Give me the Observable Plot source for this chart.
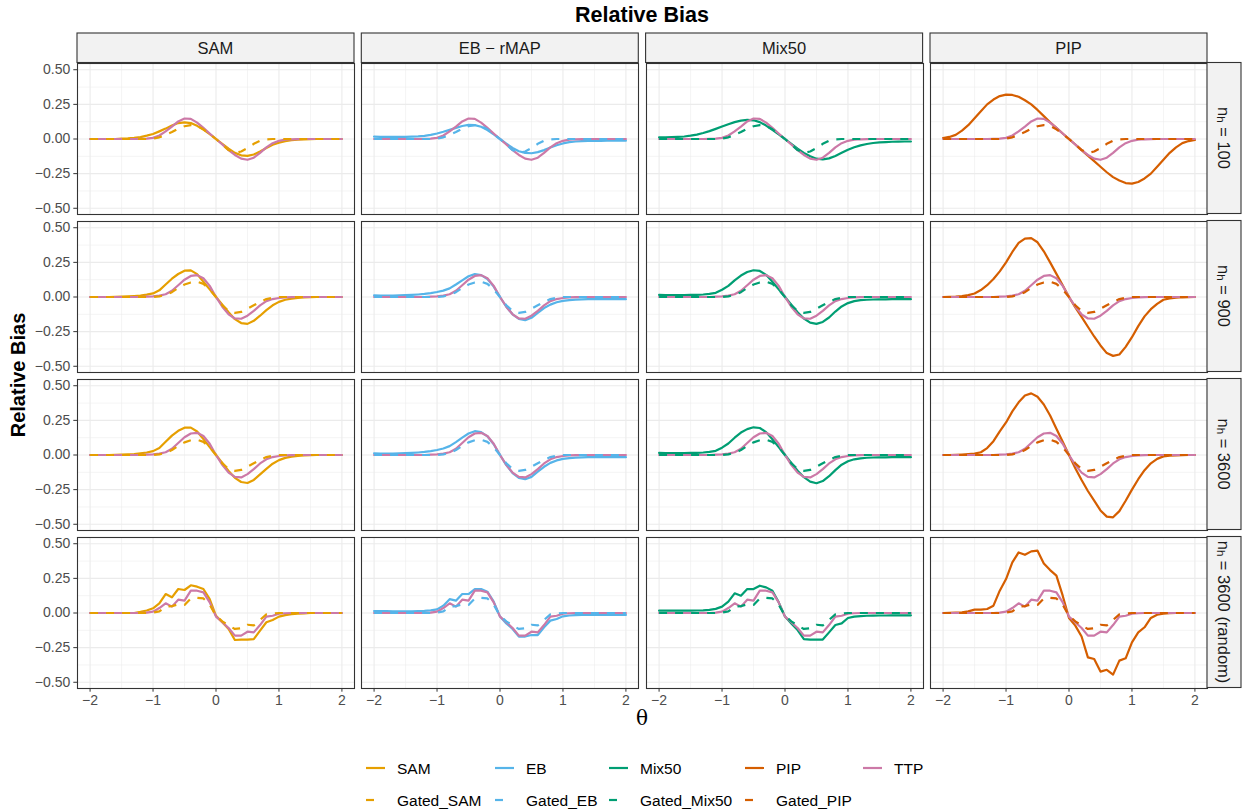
<!DOCTYPE html>
<html><head><meta charset="utf-8">
<script src="https://cdn.jsdelivr.net/npm/d3@7"></script>
<script src="https://cdn.jsdelivr.net/npm/@observablehq/plot@0.6"></script>
<style>
body{margin:0;background:#fff;font-family:"Liberation Sans",Arial,sans-serif;}
#root{position:relative;width:1250px;height:812px;overflow:hidden;background:#fff;}
.pn{position:absolute;}
.pn svg{overflow:visible;}
#overlay{position:absolute;left:0;top:0;pointer-events:none;}
</style></head><body><div id="root"></div>
<script>
// ---------------- data ----------------
const theta = [-2.0,-1.9,-1.8,-1.7,-1.6,-1.5,-1.4,-1.3,-1.2,-1.1,-1.0,-0.9,-0.8,-0.7,-0.6,-0.5,-0.4,-0.3,-0.2,-0.1,0.0,0.1,0.2,0.3,0.4,0.5,0.6,0.7,0.8,0.9,1.0,1.1,1.2,1.3,1.4,1.5,1.6,1.7,1.8,1.9,2.0];
const columns = ["SAM", "EB \u2212 rMAP", "Mix50", "PIP"];
const rowSizes = ["100", "900", "3600", "3600 (random)"];
const methodNames = ["SAM", "EB", "Mix50", "PIP"];
const gatedNames = ["Gated_SAM", "Gated_EB", "Gated_Mix50", "Gated_PIP"];
const legendRow1 = ["SAM", "EB", "Mix50", "PIP", "TTP"];
const legendRow2 = ["Gated_SAM", "Gated_EB", "Gated_Mix50", "Gated_PIP"];
const colors = {SAM: "#E69F00", EB: "#56B4E9", Mix50: "#009E73", PIP: "#D55E00", TTP: "#CC79A7"};
const xMajor = [-2, -1, 0, 1, 2];
const xMinor = [-1.5, -0.5, 0.5, 1.5];
const yMajor = [-0.5, -0.25, 0, 0.25, 0.5];
const yMinor = [-0.375, -0.125, 0.125, 0.375];

// n_h = 100
const sam100 = [0,0,0,0,0,0.002,0.004,0.008,0.014,0.024,0.036,0.055,0.075,0.098,0.115,0.12,0.115,0.095,0.068,0.035,0,-0.035,-0.07,-0.1,-0.118,-0.122,-0.112,-0.09,-0.065,-0.042,-0.026,-0.015,-0.008,-0.004,-0.002,-0.001,0,0,0,0,0];
const eb100 = [0.017,0.016,0.015,0.015,0.015,0.016,0.017,0.019,0.023,0.03,0.04,0.052,0.066,0.08,0.094,0.102,0.1,0.088,0.065,0.033,0,-0.033,-0.065,-0.088,-0.1,-0.103,-0.095,-0.08,-0.062,-0.045,-0.032,-0.023,-0.018,-0.015,-0.014,-0.013,-0.013,-0.012,-0.012,-0.012,-0.012];
const mix100 = [0.012,0.012,0.013,0.015,0.018,0.024,0.032,0.043,0.057,0.073,0.09,0.107,0.122,0.133,0.138,0.135,0.122,0.097,0.066,0.033,0,-0.035,-0.07,-0.1,-0.125,-0.142,-0.147,-0.14,-0.122,-0.1,-0.078,-0.06,-0.046,-0.036,-0.029,-0.025,-0.022,-0.02,-0.019,-0.018,-0.018];
const pip100 = [0.007,0.015,0.03,0.06,0.1,0.15,0.2,0.25,0.285,0.31,0.32,0.318,0.305,0.28,0.25,0.21,0.165,0.12,0.08,0.04,0,-0.04,-0.08,-0.12,-0.16,-0.2,-0.24,-0.275,-0.3,-0.318,-0.322,-0.31,-0.285,-0.25,-0.2,-0.15,-0.1,-0.06,-0.03,-0.015,-0.006];
const ttp100 = [0,0,0,0,0,0,0,0,0.001,0.003,0.008,0.025,0.055,0.09,0.127,0.148,0.145,0.118,0.08,0.04,0,-0.04,-0.08,-0.115,-0.142,-0.15,-0.135,-0.1,-0.06,-0.03,-0.013,-0.005,-0.002,-0.001,0,0,0,0,0,0,0];
const gated100 = [0,0,0,0,0,0,0,0,0,0,0.003,0.012,0.03,0.05,0.075,0.092,0.1,0.095,0.07,0.035,0,-0.04,-0.08,-0.1,-0.09,-0.065,-0.035,-0.012,-0.003,0,0,0,0,0,0,0,0,0,0,0,0];

// n_h = 900
const sam900 = [0,0,0,0,0.001,0.002,0.004,0.007,0.011,0.017,0.026,0.048,0.09,0.132,0.166,0.19,0.192,0.165,0.11,0.055,0,-0.055,-0.11,-0.16,-0.188,-0.194,-0.172,-0.135,-0.095,-0.06,-0.035,-0.02,-0.012,-0.006,-0.003,-0.001,0,0,0,0,0];
const eb900 = [0.012,0.011,0.011,0.011,0.012,0.013,0.015,0.018,0.022,0.028,0.036,0.046,0.062,0.09,0.12,0.15,0.165,0.158,0.13,0.075,0,-0.07,-0.125,-0.158,-0.167,-0.15,-0.115,-0.08,-0.055,-0.038,-0.028,-0.022,-0.019,-0.017,-0.016,-0.016,-0.016,-0.016,-0.016,-0.016,-0.016];
const mix900 = [0.015,0.014,0.014,0.014,0.014,0.015,0.016,0.018,0.022,0.03,0.052,0.08,0.12,0.155,0.18,0.193,0.188,0.16,0.11,0.055,0,-0.055,-0.11,-0.155,-0.185,-0.194,-0.18,-0.148,-0.105,-0.068,-0.044,-0.03,-0.023,-0.02,-0.018,-0.017,-0.017,-0.016,-0.016,-0.016,-0.016];
const pip900 = [0,0.001,0.003,0.007,0.014,0.025,0.05,0.085,0.13,0.185,0.25,0.325,0.39,0.422,0.425,0.395,0.33,0.25,0.167,0.085,0,-0.075,-0.143,-0.215,-0.285,-0.35,-0.405,-0.425,-0.415,-0.36,-0.29,-0.21,-0.14,-0.088,-0.05,-0.02,-0.01,-0.005,-0.002,-0.001,0];
const ttp900 = [0,0,0,0,0,0,0,0,0,0.002,0.005,0.01,0.02,0.045,0.085,0.125,0.152,0.158,0.135,0.08,0,-0.07,-0.125,-0.155,-0.157,-0.135,-0.1,-0.06,-0.03,-0.015,-0.007,-0.003,-0.001,0,0,0,0,0,0,0,0];
const gated900 = [0,0,0,0,0,0,0,0,0,0,0,0.005,0.015,0.035,0.065,0.09,0.105,0.11,0.095,0.055,0,-0.06,-0.1,-0.114,-0.108,-0.085,-0.06,-0.035,-0.015,-0.005,0,0,0,0,0,0,0,0,0,0,0];

// n_h = 3600
const sam3600 = [0,0,0,0,0.001,0.002,0.004,0.007,0.012,0.018,0.028,0.05,0.095,0.14,0.175,0.197,0.198,0.17,0.115,0.057,0,-0.057,-0.115,-0.165,-0.195,-0.202,-0.18,-0.14,-0.1,-0.063,-0.037,-0.021,-0.012,-0.006,-0.003,-0.001,0,0,0,0,0];
const eb3600 = [0.012,0.011,0.011,0.011,0.012,0.013,0.015,0.018,0.022,0.028,0.036,0.047,0.064,0.093,0.125,0.155,0.172,0.165,0.135,0.078,0,-0.073,-0.13,-0.165,-0.175,-0.158,-0.12,-0.085,-0.057,-0.039,-0.028,-0.022,-0.019,-0.017,-0.016,-0.016,-0.016,-0.016,-0.016,-0.016,-0.016];
const mix3600 = [0.015,0.014,0.014,0.014,0.014,0.015,0.016,0.018,0.022,0.03,0.053,0.083,0.125,0.162,0.187,0.2,0.195,0.165,0.114,0.057,0,-0.057,-0.114,-0.16,-0.192,-0.204,-0.188,-0.153,-0.109,-0.07,-0.045,-0.031,-0.024,-0.02,-0.018,-0.017,-0.017,-0.016,-0.016,-0.016,-0.016];
const pip3600 = [0,0,0.001,0.003,0.006,0.01,0.02,0.05,0.1,0.17,0.235,0.315,0.38,0.43,0.445,0.42,0.365,0.285,0.19,0.095,0,-0.095,-0.18,-0.26,-0.33,-0.4,-0.445,-0.45,-0.405,-0.33,-0.25,-0.175,-0.11,-0.06,-0.028,-0.01,-0.004,-0.002,-0.001,0,0];
const ttp3600 = [0,0,0,0,0,0,0,0,0,0.002,0.005,0.01,0.02,0.045,0.087,0.128,0.155,0.16,0.137,0.081,0,-0.071,-0.127,-0.158,-0.162,-0.138,-0.102,-0.061,-0.031,-0.015,-0.007,-0.003,-0.001,0,0,0,0,0,0,0,0];
const gated3600 = [0,0,0,0,0,0,0,0,0,0,0,0.005,0.015,0.036,0.066,0.091,0.106,0.11,0.095,0.055,0,-0.06,-0.1,-0.114,-0.108,-0.085,-0.06,-0.035,-0.015,-0.005,0,0,0,0,0,0,0,0,0,0,0];

// n_h = 3600 (random)
const sam3600r = [0,0,0,0,0,0,0,0,0.008,0.018,0.034,0.07,0.137,0.113,0.173,0.166,0.2,0.19,0.173,0.1,-0.02,-0.067,-0.115,-0.195,-0.192,-0.192,-0.188,-0.127,-0.067,-0.05,-0.026,-0.015,-0.008,-0.004,-0.002,0,0,0,0,0,0];
const eb3600r = [0.014,0.013,0.013,0.012,0.012,0.012,0.012,0.013,0.015,0.019,0.026,0.053,0.1,0.089,0.137,0.137,0.173,0.173,0.154,0.082,-0.026,-0.075,-0.115,-0.17,-0.17,-0.159,-0.159,-0.103,-0.055,-0.043,-0.024,-0.018,-0.015,-0.014,-0.014,-0.014,-0.014,-0.014,-0.014,-0.014,-0.014];
const mix3600r = [0.017,0.017,0.017,0.017,0.017,0.017,0.018,0.019,0.022,0.03,0.046,0.082,0.142,0.125,0.173,0.173,0.197,0.185,0.161,0.077,-0.026,-0.075,-0.123,-0.188,-0.192,-0.192,-0.192,-0.14,-0.087,-0.075,-0.036,-0.026,-0.022,-0.02,-0.019,-0.018,-0.018,-0.017,-0.017,-0.017,-0.017];
const pip3600r = [0,0.001,0.003,0.005,0.012,0.024,0.024,0.029,0.053,0.161,0.245,0.365,0.437,0.42,0.445,0.45,0.358,0.31,0.27,0.125,-0.036,-0.091,-0.17,-0.32,-0.332,-0.423,-0.41,-0.445,-0.344,-0.327,-0.212,-0.14,-0.103,-0.036,-0.012,-0.005,-0.002,0,0,0,0];
const ttp3600r = [0,0,0,0,0,0,0,0,0,0.003,0.01,0.036,0.07,0.046,0.096,0.089,0.161,0.161,0.149,0.077,-0.026,-0.067,-0.108,-0.163,-0.163,-0.135,-0.14,-0.087,-0.026,-0.02,-0.005,-0.002,0,0,0,0,0,0,0,0,0];
const gated3600r = [0,0,0,0,0,0,0,0,0,0,0.003,0.012,0.045,0.05,0.062,0.058,0.105,0.11,0.105,0.06,-0.02,-0.06,-0.09,-0.115,-0.11,-0.085,-0.09,-0.05,-0.01,-0.005,0,0,0,0,0,0,0,0,0,0,0];

const methodSeries = [
  [sam100, sam900, sam3600, sam3600r],
  [eb100, eb900, eb3600, eb3600r],
  [mix100, mix900, mix3600, mix3600r],
  [pip100, pip900, pip3600, pip3600r]
];
const ttpSeries = [ttp100, ttp900, ttp3600, ttp3600r];
// the four gated series (Gated_SAM, Gated_EB, Gated_Mix50, Gated_PIP) read nearly identical per row
const gatedSeries = [gated100, gated900, gated3600, gated3600r];

// ---------------- layout ----------------
const W = 277, H = 151;
const colX = [77, 361.3, 645.6, 930];
const rowY = [62.5, 220.5, 378.5, 536.5];
const LW = 2.2;
const root = document.getElementById("root");
const fmtY = d => d3.format(".2f")(d);

function rec(arr) { return theta.map((x, i) => ({x, y: arr[i]})); }

for (let ci = 0; ci < 4; ci++) {
  for (let ri = 0; ri < 4; ri++) {
    const ml = ci === 0 ? 60 : 0;
    const mb = ri === 3 ? 30 : 0;
    const col = colors[methodNames[ci]];
    const grid = {stroke: "#EBEBEB", strokeOpacity: 1};
    const marks = [
      Plot.gridX(xMinor, {...grid, strokeWidth: 0.55}),
      Plot.gridY(yMinor, {...grid, strokeWidth: 0.55}),
      Plot.gridX(xMajor, {...grid, strokeWidth: 1.1}),
      Plot.gridY(yMajor, {...grid, strokeWidth: 1.1}),
      Plot.line(rec(methodSeries[ci][ri]), {x: "x", y: "y", stroke: col, strokeWidth: LW}),
      Plot.line(rec(ttpSeries[ri]), {x: "x", y: "y", stroke: colors.TTP, strokeWidth: LW}),
      Plot.line(rec(gatedSeries[ri]), {x: "x", y: "y", stroke: col, strokeWidth: LW, strokeDasharray: "8,8", strokeLinecap: "butt"}),
      Plot.frame({stroke: "#333333", strokeWidth: 1.1})
    ];
    if (ci === 0) marks.push(Plot.axisY(yMajor, {tickSize: 3.7, tickPadding: 3.5, tickFormat: fmtY, fontSize: 14, fill: "#4D4D4D", stroke: "#333333", label: null}));
    if (ri === 3) marks.push(Plot.axisX(xMajor, {tickSize: 3.7, tickPadding: 3, tickFormat: d => d3.format("d")(d), fontSize: 14, fill: "#4D4D4D", stroke: "#333333", label: null}));
    const chart = Plot.plot({
      width: ml + W, height: H + mb,
      marginLeft: ml, marginRight: 0, marginTop: 0, marginBottom: mb,
      x: {domain: [-2.2, 2.2], axis: ri === 3 ? undefined : null},
      y: {domain: [-0.545, 0.545], axis: ci === 0 ? undefined : null},
      style: {background: "transparent", fontFamily: "Liberation Sans, Arial, sans-serif", overflow: "visible"},
      marks
    });
    const div = document.createElement("div");
    div.className = "pn";
    div.style.left = (colX[ci] - ml) + "px";
    div.style.top = rowY[ri] + "px";
    div.style.width = (ml + W) + "px";
    div.appendChild(chart);
    root.appendChild(div);
  }
}

// ---------------- overlay: strips, titles, legend ----------------
const svg = d3.select(root).append("svg").attr("id", "overlay")
  .attr("width", 1250).attr("height", 812)
  .style("font-family", "Liberation Sans, Arial, sans-serif");

// column strips
columns.forEach((c, ci) => {
  svg.append("rect").attr("x", colX[ci]).attr("y", 33).attr("width", W).attr("height", rowY[0] - 33)
    .attr("fill", "#F2F2F2").attr("stroke", "#333333").attr("stroke-width", 1.1);
  svg.append("text").attr("x", colX[ci] + W / 2).attr("y", (33 + rowY[0]) / 2)
    .attr("text-anchor", "middle").attr("dominant-baseline", "central")
    .attr("font-size", 16.5).attr("fill", "#1A1A1A").text(c);
});
// row strips
const sx = colX[3] + W;
rowSizes.forEach((r, ri) => {
  svg.append("rect").attr("x", sx).attr("y", rowY[ri]).attr("width", 34).attr("height", H)
    .attr("fill", "#F2F2F2").attr("stroke", "#333333").attr("stroke-width", 1.1);
  const t = svg.append("text")
    .attr("transform", `translate(${sx + 17},${rowY[ri] + H / 2}) rotate(90)`)
    .attr("text-anchor", "middle").attr("dominant-baseline", "central")
    .attr("font-size", 16.5).attr("fill", "#1A1A1A");
  t.append("tspan").text("n");
  t.append("tspan").attr("font-size", 11.5).attr("dy", 3.5).text("h");
  t.append("tspan").attr("dy", -3.5).text(" = " + r);
});

// title
svg.append("text").attr("x", 642).attr("y", 15).attr("text-anchor", "middle").attr("dominant-baseline", "central")
  .attr("font-size", 21.5).attr("font-weight", "bold").attr("fill", "#000").text("Relative Bias");
// y title
svg.append("text").attr("transform", "translate(18,375) rotate(-90)").attr("text-anchor", "middle")
  .attr("dominant-baseline", "central").attr("font-size", 20).attr("font-weight", "bold").attr("fill", "#000").text("Relative Bias");
// x title
svg.append("text").attr("x", 642).attr("y", 718).attr("text-anchor", "middle").attr("dominant-baseline", "central")
  .attr("font-size", 20).attr("font-family", "DejaVu Serif, Liberation Serif, serif").attr("fill", "#000").text("\u03B8");

// legend
const labelX = [397, 526, 640, 776, 894];
legendRow1.forEach((name, i) => {
  const y = 768, lx = labelX[i];
  svg.append("line").attr("x1", lx - 31).attr("x2", lx - 12).attr("y1", y).attr("y2", y)
    .attr("stroke", colors[name]).attr("stroke-width", LW);
  svg.append("text").attr("x", lx).attr("y", y).attr("dominant-baseline", "central")
    .attr("font-size", 15.5).attr("fill", "#000").text(name);
});
legendRow2.forEach((name, i) => {
  const y = 800, lx = labelX[i];
  svg.append("line").attr("x1", lx - 31).attr("x2", lx - 23).attr("y1", y).attr("y2", y)
    .attr("stroke", colors[methodNames[i]]).attr("stroke-width", LW);
  svg.append("text").attr("x", lx).attr("y", y).attr("dominant-baseline", "central")
    .attr("font-size", 15.5).attr("fill", "#000").text(name);
});
</script></body></html>
